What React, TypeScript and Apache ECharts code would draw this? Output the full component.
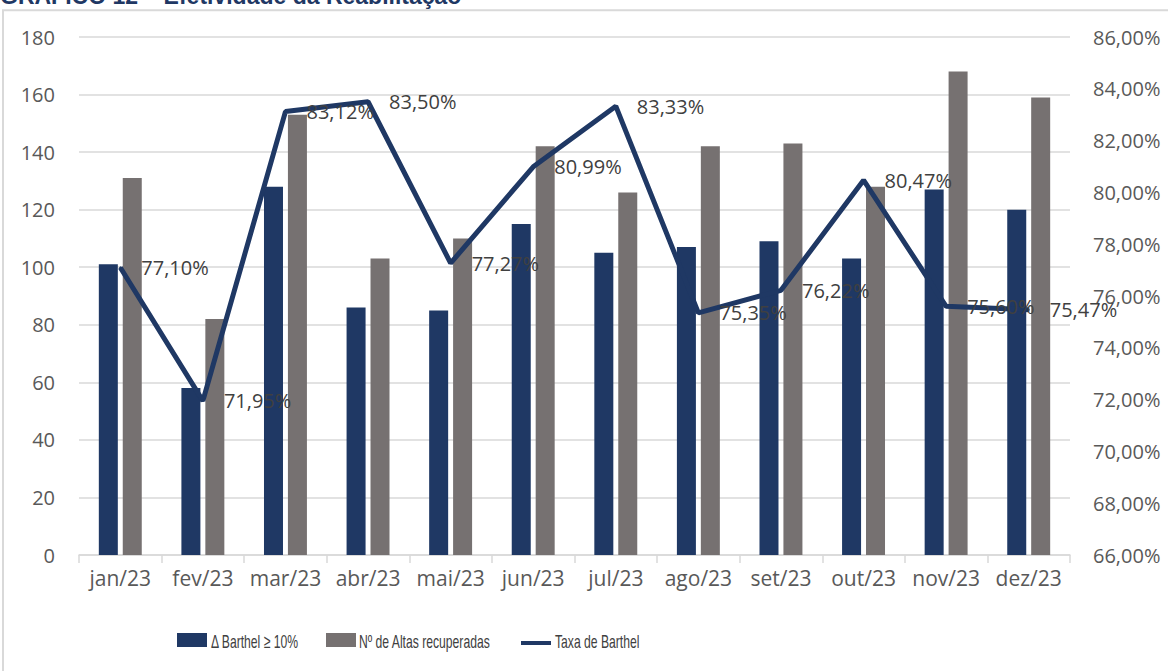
import React, { useEffect, useRef } from "react";
import * as echarts from "echarts";

const categories = ["jan/23", "fev/23", "mar/23", "abr/23", "mai/23", "jun/23", "jul/23", "ago/23", "set/23", "out/23", "nov/23", "dez/23"];
const barthelDelta = [101, 58, 128, 86, 85, 115, 105, 107, 109, 103, 127, 120];
const altasRecuperadas = [131, 82, 153, 103, 110, 142, 126, 142, 143, 128, 168, 159];
const taxaBarthel = [77.10, 71.95, 83.12, 83.50, 77.27, 80.99, 83.33, 75.35, 76.22, 80.47, 75.60, 75.47];
const seriesNames = ["Δ Barthel ≥ 10%", "Nº de Altas recuperadas", "Taxa de Barthel"];
const titleText = "GRÁFICO 12 – Efetividade da Reabilitação";

const NAVY = "#1f3864";
const GRAY = "#767171";
const FONT = "'Open Sans', 'Noto Sans', sans-serif";
const LEG_FONT = "'Liberation Sans', Arial, sans-serif";

const pct = (v: number) => v.toFixed(2).replace(".", ",") + "%";

export default function App() {
  const ref = useRef<HTMLDivElement>(null);
  useEffect(() => {
    if (!ref.current) return;
    const chart = echarts.init(ref.current, undefined, { renderer: "svg" });
    const legendY = 641;
    const legendText = (text: string, x: number) => ({
      type: "text",
      x,
      y: legendY,
      scaleX: 0.64,
      silent: true,
      style: { text, fill: "#404040", font: `19px ${LEG_FONT}`, verticalAlign: "middle", align: "left" },
    });
    chart.setOption({
      animation: false,
      backgroundColor: "#ffffff",
      graphic: [
        {
          type: "rect",
          shape: { x: 3, y: 10.3, width: 1400, height: 900 },
          style: { fill: "none", stroke: "#d9d9d9", lineWidth: 2 },
          silent: true,
        },
        {
          type: "text",
          x: 0,
          y: 7,
          silent: true,
          style: { text: titleText, fill: NAVY, font: `bold 23px ${LEG_FONT}`, verticalAlign: "bottom", align: "left" },
        },
        // legend
        { type: "rect", silent: true, shape: { x: 177, y: 633, width: 30, height: 14 }, style: { fill: NAVY } },
        legendText(seriesNames[0], 211),
        { type: "rect", silent: true, shape: { x: 326, y: 633, width: 30, height: 14 }, style: { fill: GRAY } },
        legendText(seriesNames[1], 359),
        { type: "rect", silent: true, shape: { x: 521, y: 641, width: 30, height: 4 }, style: { fill: NAVY } },
        legendText(seriesNames[2], 555),
      ],
      grid: { left: 79, right: 98, top: 37, bottom: 116 },
      legend: { show: false, data: seriesNames },
      xAxis: {
        type: "category",
        data: categories,
        axisLine: { lineStyle: { color: "#d9d9d9", width: 1.5 } },
        axisTick: { show: true, length: 8, lineStyle: { color: "#d9d9d9", width: 1.5 } },
        axisLabel: { color: "#595959", fontFamily: FONT, fontSize: 21, margin: 12, interval: 0 },
      },
      yAxis: [
        {
          type: "value",
          min: 0,
          max: 180,
          interval: 20,
          axisLine: { show: false },
          axisTick: { show: false },
          splitLine: { lineStyle: { color: "#d9d9d9", width: 1.5 } },
          axisLabel: { color: "#595959", fontFamily: FONT, fontSize: 20, margin: 24 },
        },
        {
          type: "value",
          min: 66,
          max: 86,
          interval: 2,
          position: "right",
          axisLine: { show: false },
          axisTick: { show: false },
          splitLine: { show: false },
          axisLabel: { color: "#595959", fontFamily: FONT, fontSize: 20, margin: 23, formatter: (v: number) => pct(v) },
        },
      ],
      series: [
        {
          name: seriesNames[0],
          type: "bar",
          data: barthelDelta,
          barWidth: 19,
          barGap: "26%",
          itemStyle: { color: NAVY },
        },
        {
          name: seriesNames[1],
          type: "bar",
          data: altasRecuperadas,
          barWidth: 19,
          barGap: "26%",
          itemStyle: { color: GRAY },
        },
        {
          name: seriesNames[2],
          type: "line",
          yAxisIndex: 1,
          data: taxaBarthel,
          symbol: "circle",
          symbolSize: 2,
          itemStyle: { color: NAVY },
          lineStyle: { color: NAVY, width: 5 },
          z: 5,
          label: {
            show: true,
            position: "right",
            distance: 20,
            color: "#404040",
            fontFamily: FONT,
            fontSize: 20,
            formatter: (p: any) => pct(p.value),
          },
        },
      ],
    });
    return () => chart.dispose();
  }, []);
  return <div ref={ref} style={{ position: "absolute", left: 0, top: 0, width: 1168, height: 671 }} />;
}
